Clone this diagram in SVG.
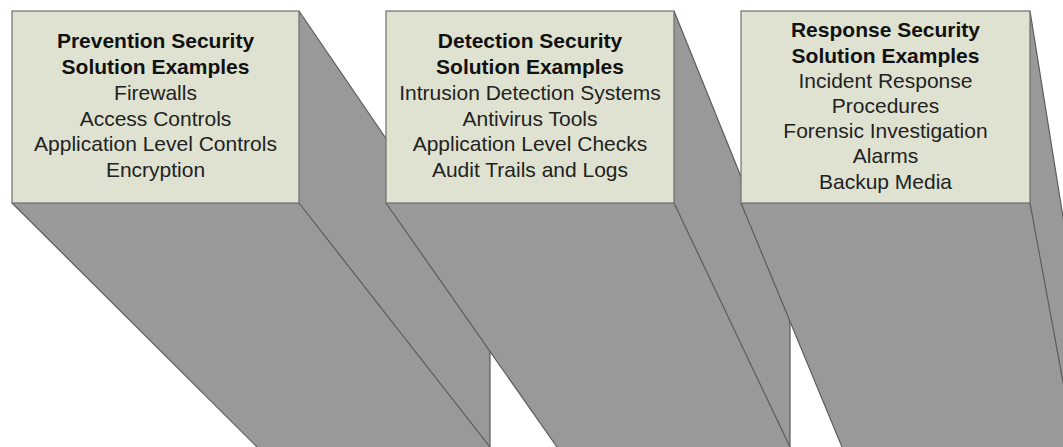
<svg xmlns="http://www.w3.org/2000/svg" width="1063" height="447" viewBox="0 0 1063 447">
<style>
.side{fill:#999999;stroke:none}
.edge{stroke:#5c5c5c;stroke-width:1.2;fill:none}
.front{fill:#dfe2d0;stroke:#6e6e6e;stroke-width:1.2}
.hd{font-family:"Liberation Sans",Arial,sans-serif;font-size:21px;font-weight:bold;fill:#111;text-anchor:middle}
.it{font-family:"Liberation Sans",Arial,sans-serif;font-size:21px;fill:#222;text-anchor:middle}
</style>
<rect x="0" y="0" width="1063" height="447" fill="#ffffff"/>
<g id="prevention">
<polygon class="side" points="12,11 299,11 490,291 490,447 257,447 12,203"/>
<path class="edge" d="M299,11 L490,291 L490,447 M12,203 L257,447 M299,203 L490,447"/>
<rect class="front" x="12" y="11" width="287" height="192"/>
<text class="hd" x="155.5" y="48">Prevention Security</text>
<text class="hd" x="155.5" y="74">Solution Examples</text>
<text class="it" x="155.5" y="100">Firewalls</text>
<text class="it" x="155.5" y="126">Access Controls</text>
<text class="it" x="155.5" y="151">Application Level Controls</text>
<text class="it" x="155.5" y="177">Encryption</text>
</g>
<g id="detection">
<polygon class="side" points="386,11 674,11 790,298 790,447 557,447 386,203"/>
<path class="edge" d="M674,11 L790,298 L790,447 M386,203 L557,447 M674,203 L790,447"/>
<rect class="front" x="386" y="11" width="288" height="192"/>
<text class="hd" x="530" y="48">Detection Security</text>
<text class="hd" x="530" y="74">Solution Examples</text>
<text class="it" x="530" y="100">Intrusion Detection Systems</text>
<text class="it" x="530" y="126">Antivirus Tools</text>
<text class="it" x="530" y="151">Application Level Checks</text>
<text class="it" x="530" y="177">Audit Trails and Logs</text>
</g>
<g id="response">
<polygon class="side" points="741,11 1030,11 1075,292 1075,447 842,447 741,203"/>
<path class="edge" d="M1030,11 L1075,292 L1075,447 M741,203 L842,447 M1030,203 L1075,447"/>
<rect class="front" x="741" y="11" width="289" height="192"/>
<text class="hd" x="885.5" y="37">Response Security</text>
<text class="hd" x="885.5" y="63">Solution Examples</text>
<text class="it" x="885.5" y="88">Incident Response</text>
<text class="it" x="885.5" y="113">Procedures</text>
<text class="it" x="885.5" y="138">Forensic Investigation</text>
<text class="it" x="885.5" y="163">Alarms</text>
<text class="it" x="885.5" y="189">Backup Media</text>
</g>
<g id="connectors"></g>
</svg>
